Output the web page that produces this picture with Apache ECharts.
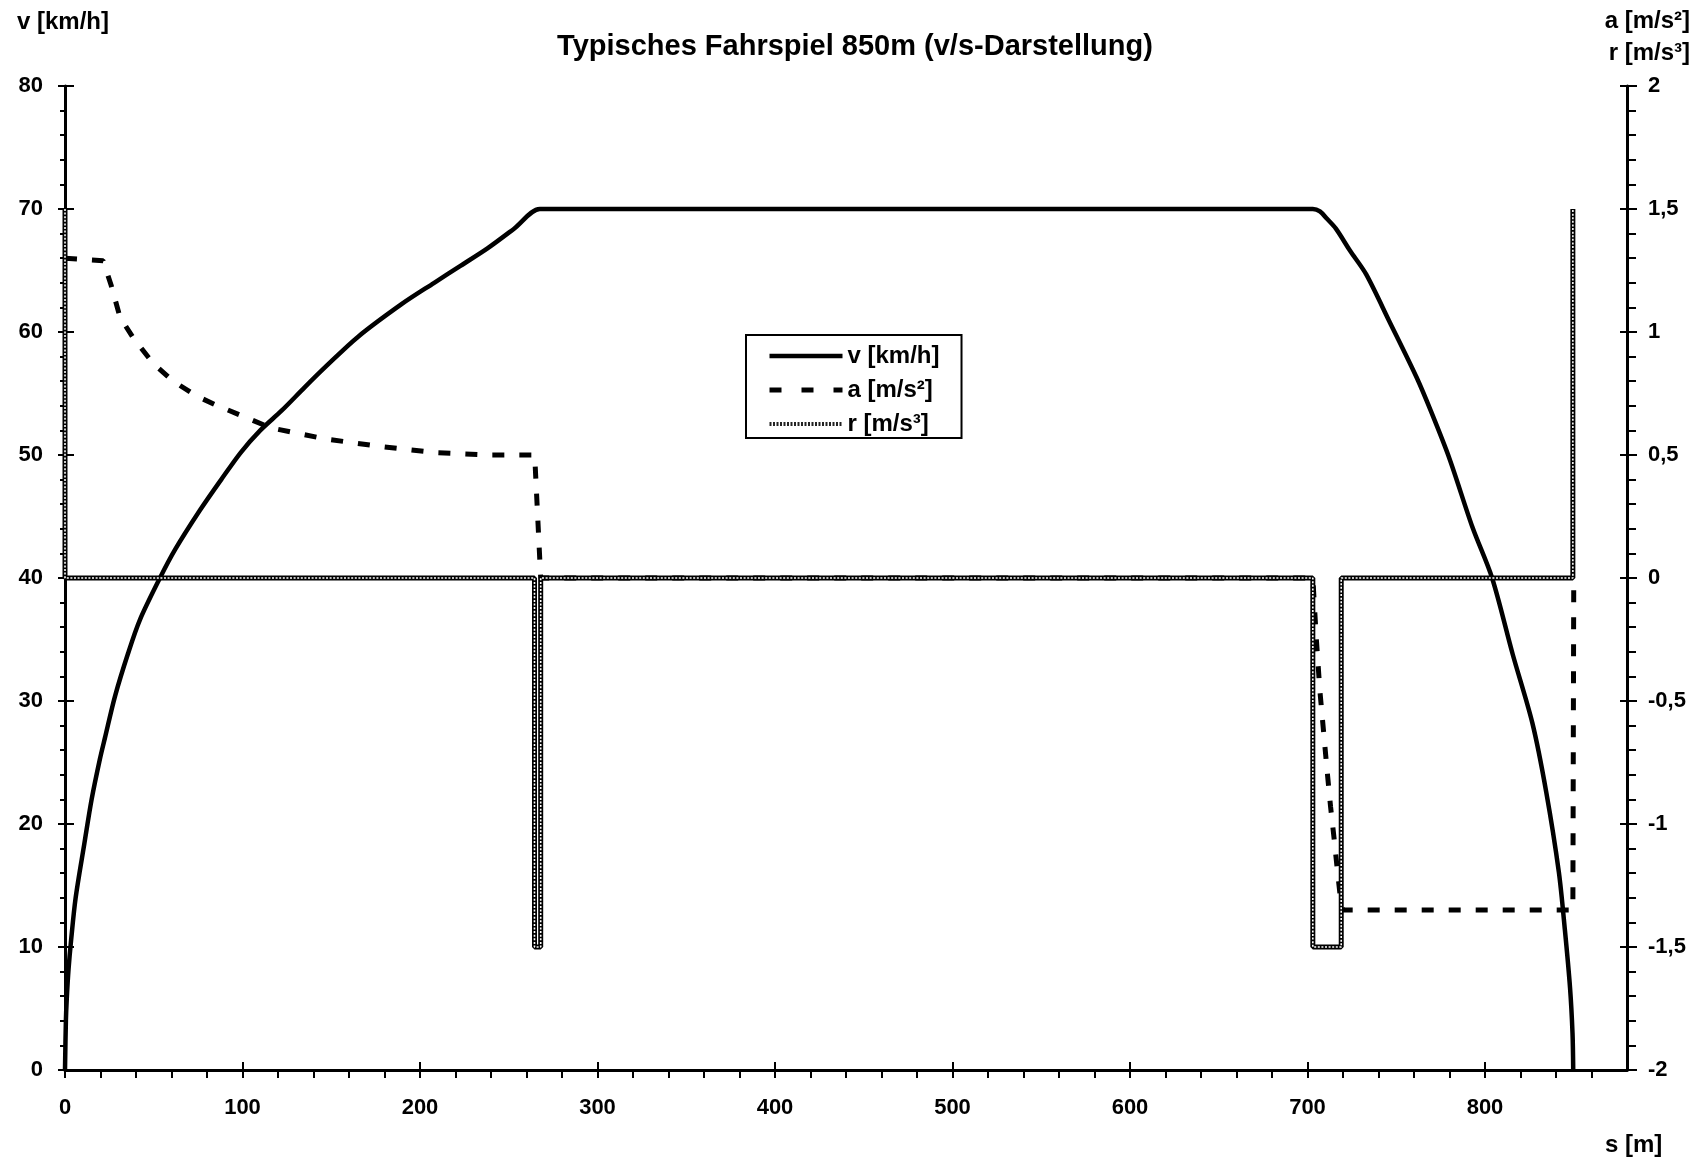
<!DOCTYPE html>
<html><head><meta charset="utf-8">
<script src="https://cdn.jsdelivr.net/npm/echarts@6/dist/echarts.min.js"></script>
<style>html,body{margin:0;padding:0;background:#fff}#c{width:1702px;height:1159px}</style>
</head><body><div id="c"></div>
<script>
// ---- data ----
const TITLE = 'Typisches Fahrspiel 850m (v/s-Darstellung)';
const NAME_V = 'v [km/h]';
const NAME_A = 'a [m/s²]';
const NAME_R = 'r [m/s³]';
const NAME_S = 's [m]';

// speed v [km/h] over distance s [m]
const vS   = [0, 0.5, 1, 2, 3.4, 6, 10.9, 15, 19.7, 22.5, 28.2, 35.6, 42.2, 53.5, 62, 76, 88, 99, 110, 122, 135, 147, 165, 190, 208, 223, 238, 253, 267.5, 280,
              690, 703, 707, 711, 716, 724, 733, 746, 761.5, 770, 780, 793, 804, 815.6, 826.7, 834.5, 841.6, 845, 847.9, 849.3, 849.7];
const vVal = [0, 4, 5.8, 8.2, 10.5, 14, 18.4, 22, 25.3, 27, 30.4, 33.9, 36.6, 40, 42.3, 45.5, 48, 50.2, 52, 53.6, 55.5, 57.2, 59.6, 62.3, 64, 65.4, 66.8, 68.4, 70, 70,
              70, 70, 69.8, 69.2, 68.4, 66.6, 64.7, 60.9, 56.3, 53.4, 49.7, 44.1, 40, 33.8, 28.2, 22.6, 16.1, 11.4, 6.7, 3, 0];

// acceleration a [m/s²]
const aS   = [0, 21.5, 26, 31, 39, 50, 61, 74, 86, 116, 147, 177, 208, 240, 264.6, 268,
              703, 705, 707, 709, 711, 713, 715, 717, 719, 720, 849.5, 850];
const aVal = [1.3, 1.29, 1.19, 1.06, 0.97, 0.87, 0.8, 0.74, 0.7, 0.61, 0.565, 0.535, 0.51, 0.5, 0.5, 0,
              0, -0.25, -0.46, -0.62, -0.78, -0.93, -1.06, -1.2, -1.33, -1.35, -1.35, 0];

// jerk r [m/s³]
const rS   = [0, 0, 264.5, 264.5, 268, 268, 703, 703, 719, 719, 849.5, 849.5];
const rVal = [1.5, 0, 0, -1.5, -1.5, 0, 0, -1.5, -1.5, 0, 0, 1.5];

const X_MIN = 0, X_MAX = 880, X_MAJOR = 100, X_MINOR = 20;
const V_MIN = 0, V_MAX = 80, V_MAJOR = 10;
const AR_MIN = -2, AR_MAX = 2, AR_MAJOR = 0.5;

// ---- chart ----
const zip = (xs, ys) => xs.map((x, i) => [x, ys[i]]);
const FONT = '"Liberation Sans", Arial, sans-serif';
const BLACK = '#000';
const lbl = { color: BLACK, fontFamily: FONT, fontWeight: 'bold', fontSize: 22 };
const noAxisLine = { show: false, onZero: false };
const axisLine = { show: true, onZero: false, lineStyle: { color: BLACK, width: 3 } };
const txt = (text, x, y, align, size) => ({
  type: 'text', x: x, y: y, silent: true,
  style: { text: text, fill: BLACK, font: 'bold ' + size + 'px ' + FONT,
           align: align, verticalAlign: 'middle', textAlign: align, textVerticalAlign: 'middle' }
});

const chart = echarts.init(document.getElementById('c'), null, { renderer: 'canvas' });
chart.setOption({
  animation: false,
  backgroundColor: '#fff',
  grid: { left: 65, right: 75, top: 86, bottom: 89, containLabel: false, outerBoundsMode: 'none' },
  legend: {
    orient: 'vertical', left: 746, top: 335,
    padding: [9, 22, 2, 21],
    itemWidth: 73, itemHeight: 20, itemGap: 10,
    borderColor: BLACK, borderWidth: 2, backgroundColor: '#fff',
    textStyle: { color: BLACK, fontFamily: FONT, fontWeight: 'bold', fontSize: 24, lineHeight: 24 },
    itemStyle: { opacity: 0 },
    data: [
      { name: NAME_V, lineStyle: { color: BLACK, width: 4.5, type: 'solid' } },
      { name: NAME_A, lineStyle: { color: BLACK, width: 5, type: [12, 20] } },
      { name: NAME_R, lineStyle: { color: '#222', width: 4, type: [2, 1.5] } }
    ]
  },
  xAxis: [
    {
      type: 'value', position: 'bottom', min: X_MIN, max: X_MAX, interval: X_MINOR,
      axisLine: axisLine,
      axisTick: { show: true, inside: false, length: 8, lineStyle: { color: BLACK, width: 2 } },
      axisLabel: Object.assign({ margin: 27, showMaxLabel: false,
        formatter: v => (v % X_MAJOR === 0 ? String(v) : '') }, lbl),
      splitLine: { show: false }
    },
    {
      type: 'value', position: 'bottom', min: X_MIN, max: X_MAX, interval: X_MAJOR,
      axisLine: noAxisLine,
      axisTick: { show: true, inside: true, length: 8, lineStyle: { color: BLACK, width: 2 } },
      axisLabel: { show: false }, splitLine: { show: false }
    }
  ],
  yAxis: [
    {
      type: 'value', position: 'left', min: V_MIN, max: V_MAX, interval: V_MAJOR,
      axisLine: axisLine,
      axisTick: { show: true, inside: false, length: 7, lineStyle: { color: BLACK, width: 2 } },
      minorTick: { show: true, splitNumber: 5, length: 5, lineStyle: { color: BLACK, width: 2 } },
      axisLabel: Object.assign({ margin: 22 }, lbl),
      splitLine: { show: false }, minorSplitLine: { show: false }
    },
    {
      type: 'value', position: 'right', min: AR_MIN, max: AR_MAX, interval: AR_MAJOR,
      axisLine: axisLine,
      axisTick: { show: true, inside: false, length: 10, lineStyle: { color: BLACK, width: 2 } },
      minorTick: { show: true, splitNumber: 5, length: 9, lineStyle: { color: BLACK, width: 2 } },
      axisLabel: Object.assign({ margin: 21, formatter: v => String(v).replace('.', ',') }, lbl),
      splitLine: { show: false }, minorSplitLine: { show: false }
    },
    {
      type: 'value', position: 'left', min: V_MIN, max: V_MAX, interval: V_MAJOR,
      axisLine: noAxisLine,
      axisTick: { show: true, inside: true, length: 9, lineStyle: { color: BLACK, width: 2 } },
      axisLabel: { show: false }, splitLine: { show: false }
    },
    {
      type: 'value', position: 'right', min: AR_MIN, max: AR_MAX, interval: AR_MAJOR,
      axisLine: noAxisLine,
      axisTick: { show: true, inside: true, length: 7, lineStyle: { color: BLACK, width: 2 } },
      axisLabel: { show: false }, splitLine: { show: false }
    }
  ],
  graphic: [
    txt(TITLE, 855, 47, 'center', 29),
    txt(NAME_V, 17, 22, 'left', 24),
    txt(NAME_A, 1690, 21, 'right', 24),
    txt(NAME_R, 1690, 53, 'right', 24),
    txt(NAME_S, 1605, 1145, 'left', 24)
  ],
  series: [
    {
      name: NAME_V, type: 'line', xAxisIndex: 0, yAxisIndex: 0,
      data: zip(vS, vVal), symbol: 'none', showSymbol: false,
      smooth: 0.3,
      lineStyle: { color: BLACK, width: 4.5 }, itemStyle: { color: BLACK }
    },
    {
      name: NAME_A, type: 'line', xAxisIndex: 0, yAxisIndex: 1,
      data: zip(aS, aVal), symbol: 'none', showSymbol: false,
      lineStyle: { color: BLACK, width: 5, type: [12, 15], cap: 'butt' }, itemStyle: { color: BLACK }
    },
    {
      name: NAME_R, type: 'line', xAxisIndex: 0, yAxisIndex: 1,
      data: zip(rS, rVal), symbol: 'none', showSymbol: false,
      lineStyle: { color: BLACK, width: 5 }, itemStyle: { color: BLACK }
    },
    {
      name: NAME_R + ' ', type: 'line', xAxisIndex: 0, yAxisIndex: 1, silent: true,
      data: zip(rS, rVal), symbol: 'none', showSymbol: false,
      lineStyle: { color: '#fff', width: 1.6, type: [2, 1.6] }, itemStyle: { color: '#fff' }
    }
  ]
});
</script>
</body></html>
